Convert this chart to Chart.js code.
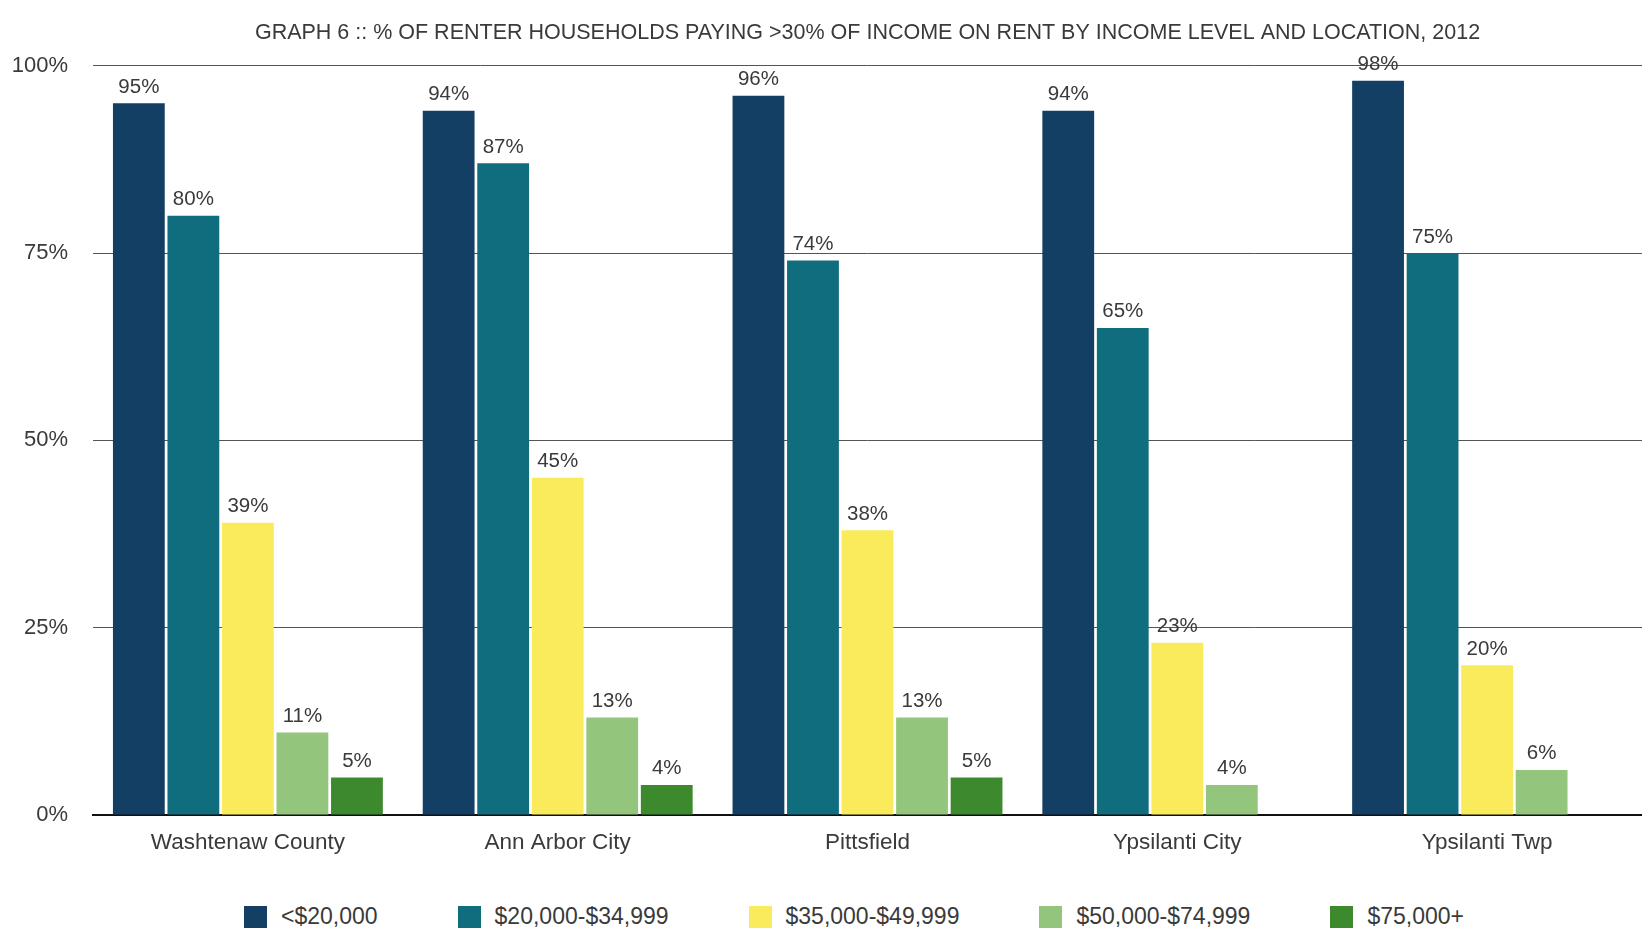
<!DOCTYPE html>
<html>
<head>
<meta charset="utf-8">
<title>Renter cost burden by income, 2012</title>
<script src="https://cdn.jsdelivr.net/npm/chart.js@4"></script>
<style>
  html, body { margin: 0; padding: 0; background: #fff; }
  #wrap { position: relative; width: 1642px; height: 937px; }
  #chartBox { position: absolute; left: 0; top: 0; width: 1642px; height: 872px; }
  #legend {
    position: absolute; left: 0; top: 903px; width: 1642px;
    display: flex; align-items: center; gap: 80px;
    box-sizing: border-box; padding-left: 244px;
    font-family: "Liberation Sans", Arial, sans-serif; font-size: 23px; color: #3a3a3a;
  }
  #legend .item { display: flex; align-items: center; }
  #legend .swatch { width: 23px; height: 22px; margin-right: 14px; }
</style>
</head>
<body>
<div id="wrap">
  <div id="chartBox"><canvas id="burdenChart"></canvas></div>
  <div id="legend"></div>
</div>
<script>
const locations = ['Washtenaw County', 'Ann Arbor City', 'Pittsfield', 'Ypsilanti City', 'Ypsilanti Twp'];
const incomeLevels = ['<$20,000', '$20,000-$34,999', '$35,000-$49,999', '$50,000-$74,999', '$75,000+'];

// % of renter households paying >30% of income on rent
const under20k = [95, 94, 96, 94, 98];
const from20to35k = [80, 87, 74, 65, 75];
const from35to50k = [39, 45, 38, 23, 20];
const from50to75k = [11, 13, 13, 4, 6];
const over75k = [5, 4, 5, null, null];

const yTicks = [0, 25, 50, 75, 100];

const fontFamily = '"Liberation Sans", Arial, sans-serif';
const textColor = '#3a3a3a';
const colors = ['#123f63', '#0f6d7e', '#f9eb5b', '#93c57c', '#3d8a2e'];
const seriesValues = [under20k, from20to35k, from35to50k, from50to75k, over75k];

const datasets = incomeLevels.map((label, i) => ({
    label: label,
    data: seriesValues[i],
    backgroundColor: colors[i],
    borderWidth: 0,
    barPercentage: 0.95,
    categoryPercentage: 0.88
}));

// writes the value above each bar
const valueLabels = {
    id: 'valueLabels',
    afterDatasetsDraw(chart) {
        const ctx = chart.ctx;
        ctx.save();
        ctx.font = '20.5px ' + fontFamily;
        ctx.fillStyle = textColor;
        ctx.textAlign = 'center';
        ctx.textBaseline = 'bottom';
        chart.data.datasets.forEach((ds, i) => {
            chart.getDatasetMeta(i).data.forEach((bar, j) => {
                const v = ds.data[j];
                if (v === null || v === undefined) return;
                ctx.fillText(v + '%', bar.x, bar.y - 6);
            });
        });
        ctx.restore();
    }
};

const chart = new Chart(document.getElementById('burdenChart'), {
    type: 'bar',
    data: { labels: locations, datasets: datasets },
    plugins: [valueLabels],
    options: {
        responsive: true,
        maintainAspectRatio: false,
        animation: false,
        layout: { padding: { left: 8, right: 0, top: 20, bottom: 10 } },
        plugins: {
            title: {
                display: true,
                fullSize: false,
                text: 'GRAPH 6 :: % OF RENTER HOUSEHOLDS PAYING >30% OF INCOME ON RENT BY INCOME LEVEL AND LOCATION, 2012',
                color: textColor,
                font: { family: fontFamily, size: 21.5, weight: 'normal' },
                padding: { top: 0, bottom: 20 }
            },
            legend: { display: false },
            tooltip: { enabled: false }
        },
        scales: {
            x: {
                grid: { display: false },
                border: { color: '#111', width: 2 },
                ticks: {
                    color: textColor,
                    font: { family: fontFamily, size: 22.5 },
                    padding: 6
                }
            },
            y: {
                min: 0,
                max: 100,
                afterBuildTicks(axis) {
                    axis.ticks = yTicks.map(v => ({ value: v }));
                },
                afterFit(scale) { scale.width = 85; },
                grid: {
                    color: '#555',
                    lineWidth: 1,
                    drawTicks: false
                },
                border: { display: false },
                ticks: {
                    color: textColor,
                    font: { family: fontFamily, size: 22 },
                    padding: 25,
                    callback: v => v + '%'
                }
            }
        }
    }
});

// legend row built from the same datasets
const legendEl = document.getElementById('legend');
chart.data.datasets.forEach(ds => {
    const item = document.createElement('div');
    item.className = 'item';
    const swatch = document.createElement('span');
    swatch.className = 'swatch';
    swatch.style.background = ds.backgroundColor;
    const text = document.createElement('span');
    text.textContent = ds.label;
    item.appendChild(swatch);
    item.appendChild(text);
    legendEl.appendChild(item);
});
</script>
</body>
</html>
